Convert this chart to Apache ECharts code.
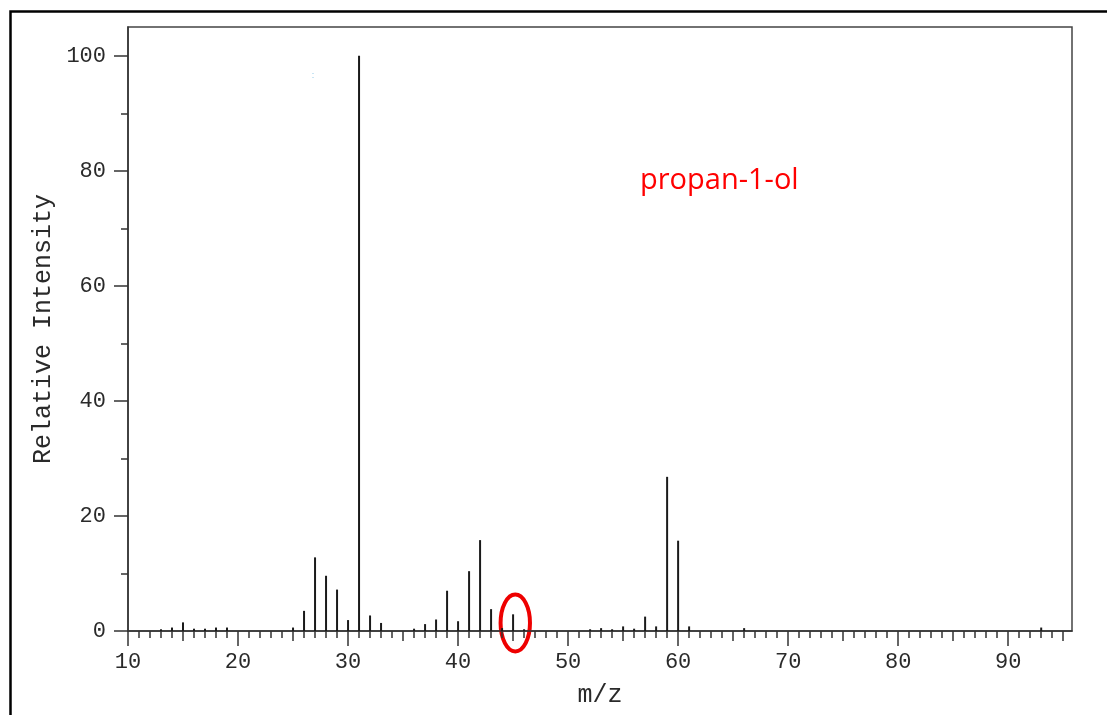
<!DOCTYPE html>
<html>
<head>
<meta charset="utf-8">
<script src="https://cdn.jsdelivr.net/npm/echarts@6/dist/echarts.min.js"></script>
<style>
  html, body { margin: 0; padding: 0; background: #fff; }
  #chart { width: 1107px; height: 715px; }
</style>
</head>
<body>
<div id="chart"></div>
<script>
  // mass spectrum of propan-1-ol
  const mz = [13, 14, 15, 16, 17, 18, 19, 25, 26, 27, 28, 29, 30, 31, 32, 33, 36, 37, 38, 39, 40,
    41, 42, 43, 44, 45, 46, 52, 53, 54, 55, 56, 57, 58, 59, 60, 61, 66, 93]
  const intensity = [0.3, 0.6, 1.5, 0.4, 0.4, 0.6, 0.6, 0.6, 3.5, 12.8, 9.6, 7.2, 1.9, 100, 2.7, 1.4, 0.4, 1.2, 2.0, 7.0, 1.7,
    10.4, 15.8, 3.8, 0.5, 2.9, 0.3, 0.3, 0.5, 0.3, 0.8, 0.4, 2.5, 0.8, 26.8, 15.7, 0.8, 0.5, 0.6]

  const xMajor = [10, 20, 30, 40, 50, 60, 70, 80, 90]
  const xMid = [15, 25, 35, 45, 55, 65, 75, 85, 95]
  const yMajor = [0, 20, 40, 60, 80, 100]
  const yMinor = [10, 30, 50, 70, 90]
  const xMinor = []
  for (let v = 11; v <= 95; v++) {
    if (v % 5 !== 0) xMinor.push(v)
  }

  const xMin = 10
  const xMax = 95.8
  const yMin = 0
  const yMax = 105

  const points = mz.map((m, i) => [m, intensity[i]])

  const axisColor = '#333'
  const monoFont = '"Liberation Mono", "DejaVu Sans Mono", monospace'

  const baseX = {
    type: 'value',
    min: xMin,
    max: xMax,
    position: 'bottom',
    splitLine: { show: false },
    axisLine: { show: false },
    axisLabel: { show: false },
  }
  const baseY = {
    type: 'value',
    min: yMin,
    max: yMax,
    position: 'left',
    splitLine: { show: false },
    axisLine: { show: false },
    axisLabel: { show: false },
  }

  const chart = echarts.init(document.getElementById('chart'))
  const options = {
    animation: false,
    grid: {
      left: 128,
      top: 27,
      right: 35,
      bottom: 84,
      show: true,
      borderColor: '#444',
      borderWidth: 1.5,
    },
    xAxis: [
      {
        ...baseX,
        name: 'm/z',
        nameLocation: 'middle',
        nameGap: 52,
        nameTextStyle: { fontFamily: monoFont, fontSize: 25, color: '#2a2a2a' },
        axisLine: { show: true, onZero: false, lineStyle: { color: axisColor, width: 1.5 } },
        axisTick: { show: true, customValues: xMajor, length: 15, lineStyle: { color: axisColor, width: 1.5 } },
        axisLabel: { show: true, customValues: xMajor, margin: 20, fontFamily: monoFont, fontSize: 22, color: '#2a2a2a' },
      },
      {
        ...baseX,
        axisTick: { show: true, customValues: xMid, length: 10, lineStyle: { color: axisColor, width: 1.5 } },
      },
      {
        ...baseX,
        axisTick: { show: true, customValues: xMinor, length: 7, lineStyle: { color: axisColor, width: 1.5 } },
      },
    ],
    yAxis: [
      {
        ...baseY,
        name: 'Relative Intensity',
        nameLocation: 'middle',
        nameGap: 68,
        nameTextStyle: { fontFamily: monoFont, fontSize: 25, color: '#2a2a2a' },
        axisLine: { show: true, onZero: false, lineStyle: { color: axisColor, width: 1.5 } },
        axisTick: { show: true, customValues: yMajor, length: 14, lineStyle: { color: axisColor, width: 1.5 } },
        axisLabel: { show: true, customValues: yMajor, margin: 22, fontFamily: monoFont, fontSize: 22, color: '#2a2a2a' },
      },
      {
        ...baseY,
        axisTick: { show: true, customValues: yMinor, length: 7, lineStyle: { color: axisColor, width: 1.5 } },
      },
    ],
    series: [
      {
        type: 'bar',
        xAxisIndex: 0,
        yAxisIndex: 0,
        data: points,
        barWidth: 2,
        itemStyle: { color: '#1a1a1a' },
        silent: true,
      },
    ],
  }
  chart.setOption(options)

  // annotations: outer frame, compound name, red ring around m/z 45
  const ring = chart.convertToPixel({ xAxisIndex: 0, yAxisIndex: 0 }, [45.2, 1.4])
  chart.setOption({
    graphic: [
      {
        type: 'rect',
        shape: { x: 10.5, y: 11.5, width: 1200, height: 800 },
        style: { fill: 'none', stroke: '#000', lineWidth: 2.5 },
        silent: true,
      },
      {
        type: 'text',
        x: 640,
        y: 181,
        style: {
          text: 'propan-1-ol',
          fontFamily: '"Open Sans", "Noto Sans", sans-serif',
          fontSize: 29,
          fill: '#ff0000',
          verticalAlign: 'middle',
        },
      },
      {
        type: 'text',
        x: 313,
        y: 76,
        style: { text: ':', fontSize: 9, fill: '#8cc8e8', align: 'center', verticalAlign: 'middle' },
      },
      {
        type: 'ellipse',
        shape: { cx: ring[0], cy: ring[1], rx: 14.7, ry: 28.5 },
        style: { fill: 'none', stroke: '#ee0000', lineWidth: 4 },
        silent: true,
      },
    ],
  })

  window.addEventListener('resize', function () {
    chart && chart.resize()
  })
</script>
</body>
</html>
